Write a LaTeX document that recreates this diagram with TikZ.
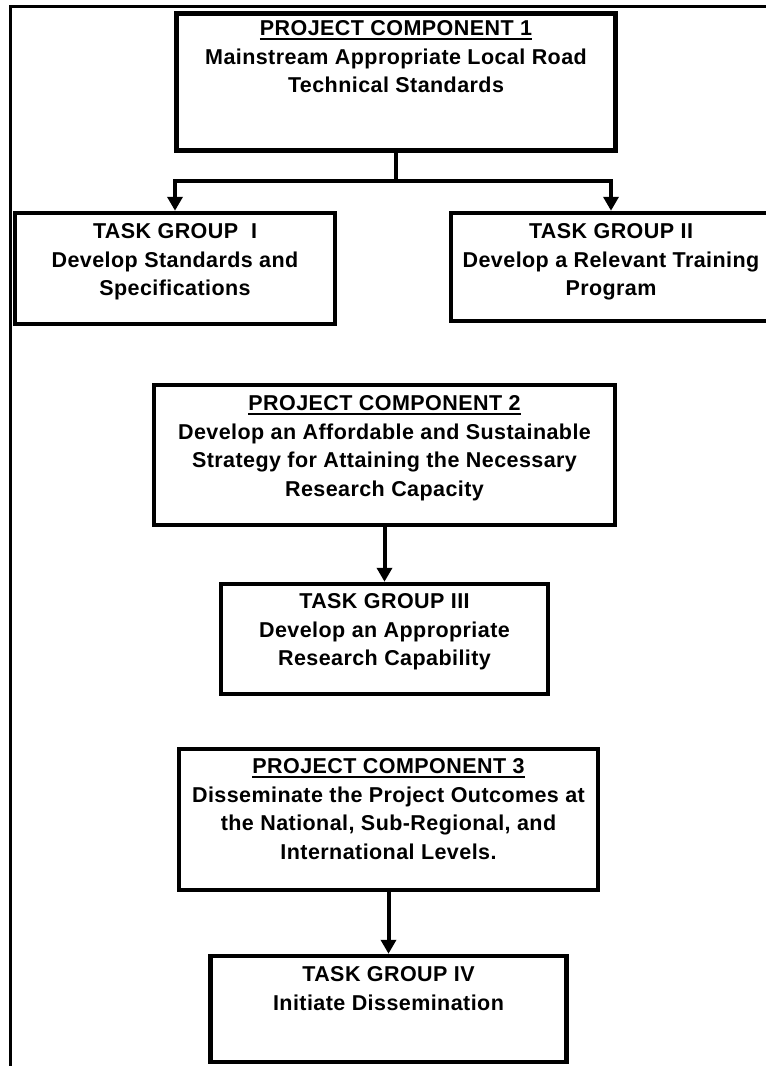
\documentclass[tikz,border=0pt]{standalone}
\usepackage{fontspec}
\setmainfont{Liberation Sans}[LetterSpace=2]
\usetikzlibrary{arrows.meta,positioning}

\newcommand{\ulbox}[1]{\setbox0\hbox{#1}\rlap{\rule[-4.5pt]{\wd0}{1.5pt}}\box0}

\begin{document}
\begin{tikzpicture}[x=1pt, y=-1pt, >={Triangle[width=15pt,length=14pt]}, node distance=12.5pt]
\tikzstyle{box}=[draw=black, line width=4.5pt, inner sep=0pt]
\tikzstyle{txt}=[align=center, inner sep=0pt, font=\fontsize{21.5}{28.7}\selectfont\bfseries]
\tikzstyle{link}=[line width=4pt]
\tikzstyle{frame}=[line width=3pt]
\useasboundingbox (0,0) rectangle (766,1066);
\draw[frame] (766,6) -- (10.5,6) -- (10.5,1066);
% components and task groups
\node[box, minimum width=439pt, minimum height=137pt] (pc1) at (396,82) {};
\node[box, minimum width=320pt, minimum height=111pt] (tg1) at (175,268.5) {};
\node[box, minimum width=320pt, minimum height=108pt] (tg2) at (611,267) {};
\node[box, minimum width=461pt, minimum height=140pt] (pc2) at (384.5,455) {};
\node[box, minimum width=327pt, minimum height=110pt] (tg3) at (384.5,639) {};
\node[box, minimum width=419pt, minimum height=141pt] (pc3) at (388.5,819.5) {};
\node[box, minimum width=356pt, minimum height=106pt] (tg4) at (388.5,1009) {};
% texts
\node[txt, below=9pt of pc1.north] (pc1t) {\ulbox{PROJECT COMPONENT 1}\\Mainstream Appropriate Local Road\\Technical Standards};
\node[txt, below=of tg1.north] (tg1t) {TASK GROUP~~I\\Develop Standards and\\Specifications};
\node[txt, below=of tg2.north] (tg2t) {TASK GROUP II\\Develop a Relevant Training\\Program};
\node[txt, below=of pc2.north] (pc2t) {\ulbox{PROJECT COMPONENT 2}\\Develop an Affordable and Sustainable\\Strategy for Attaining the Necessary\\Research Capacity};
\node[txt, below=11.5pt of tg3.north] (tg3t) {TASK GROUP III\\Develop an Appropriate\\Research Capability};
\node[txt, below=11.5pt of pc3.north] (pc3t) {\ulbox{PROJECT COMPONENT 3}\\Disseminate the Project Outcomes at\\the National, Sub-Regional, and\\International Levels.};
\node[txt, below=of tg4.north] (tg4t) {TASK GROUP IV\\Initiate Dissemination};
% connectors
\coordinate (split) at (396,181);
\draw[link] (pc1) -- (split);
\draw[link,->] (split) -| (tg1);
\draw[link,->] (split) -| (tg2);
\draw[link,->] (pc2) -- (tg3);
\draw[link,->] (pc3) -- (tg4);
\end{tikzpicture}
\end{document}
